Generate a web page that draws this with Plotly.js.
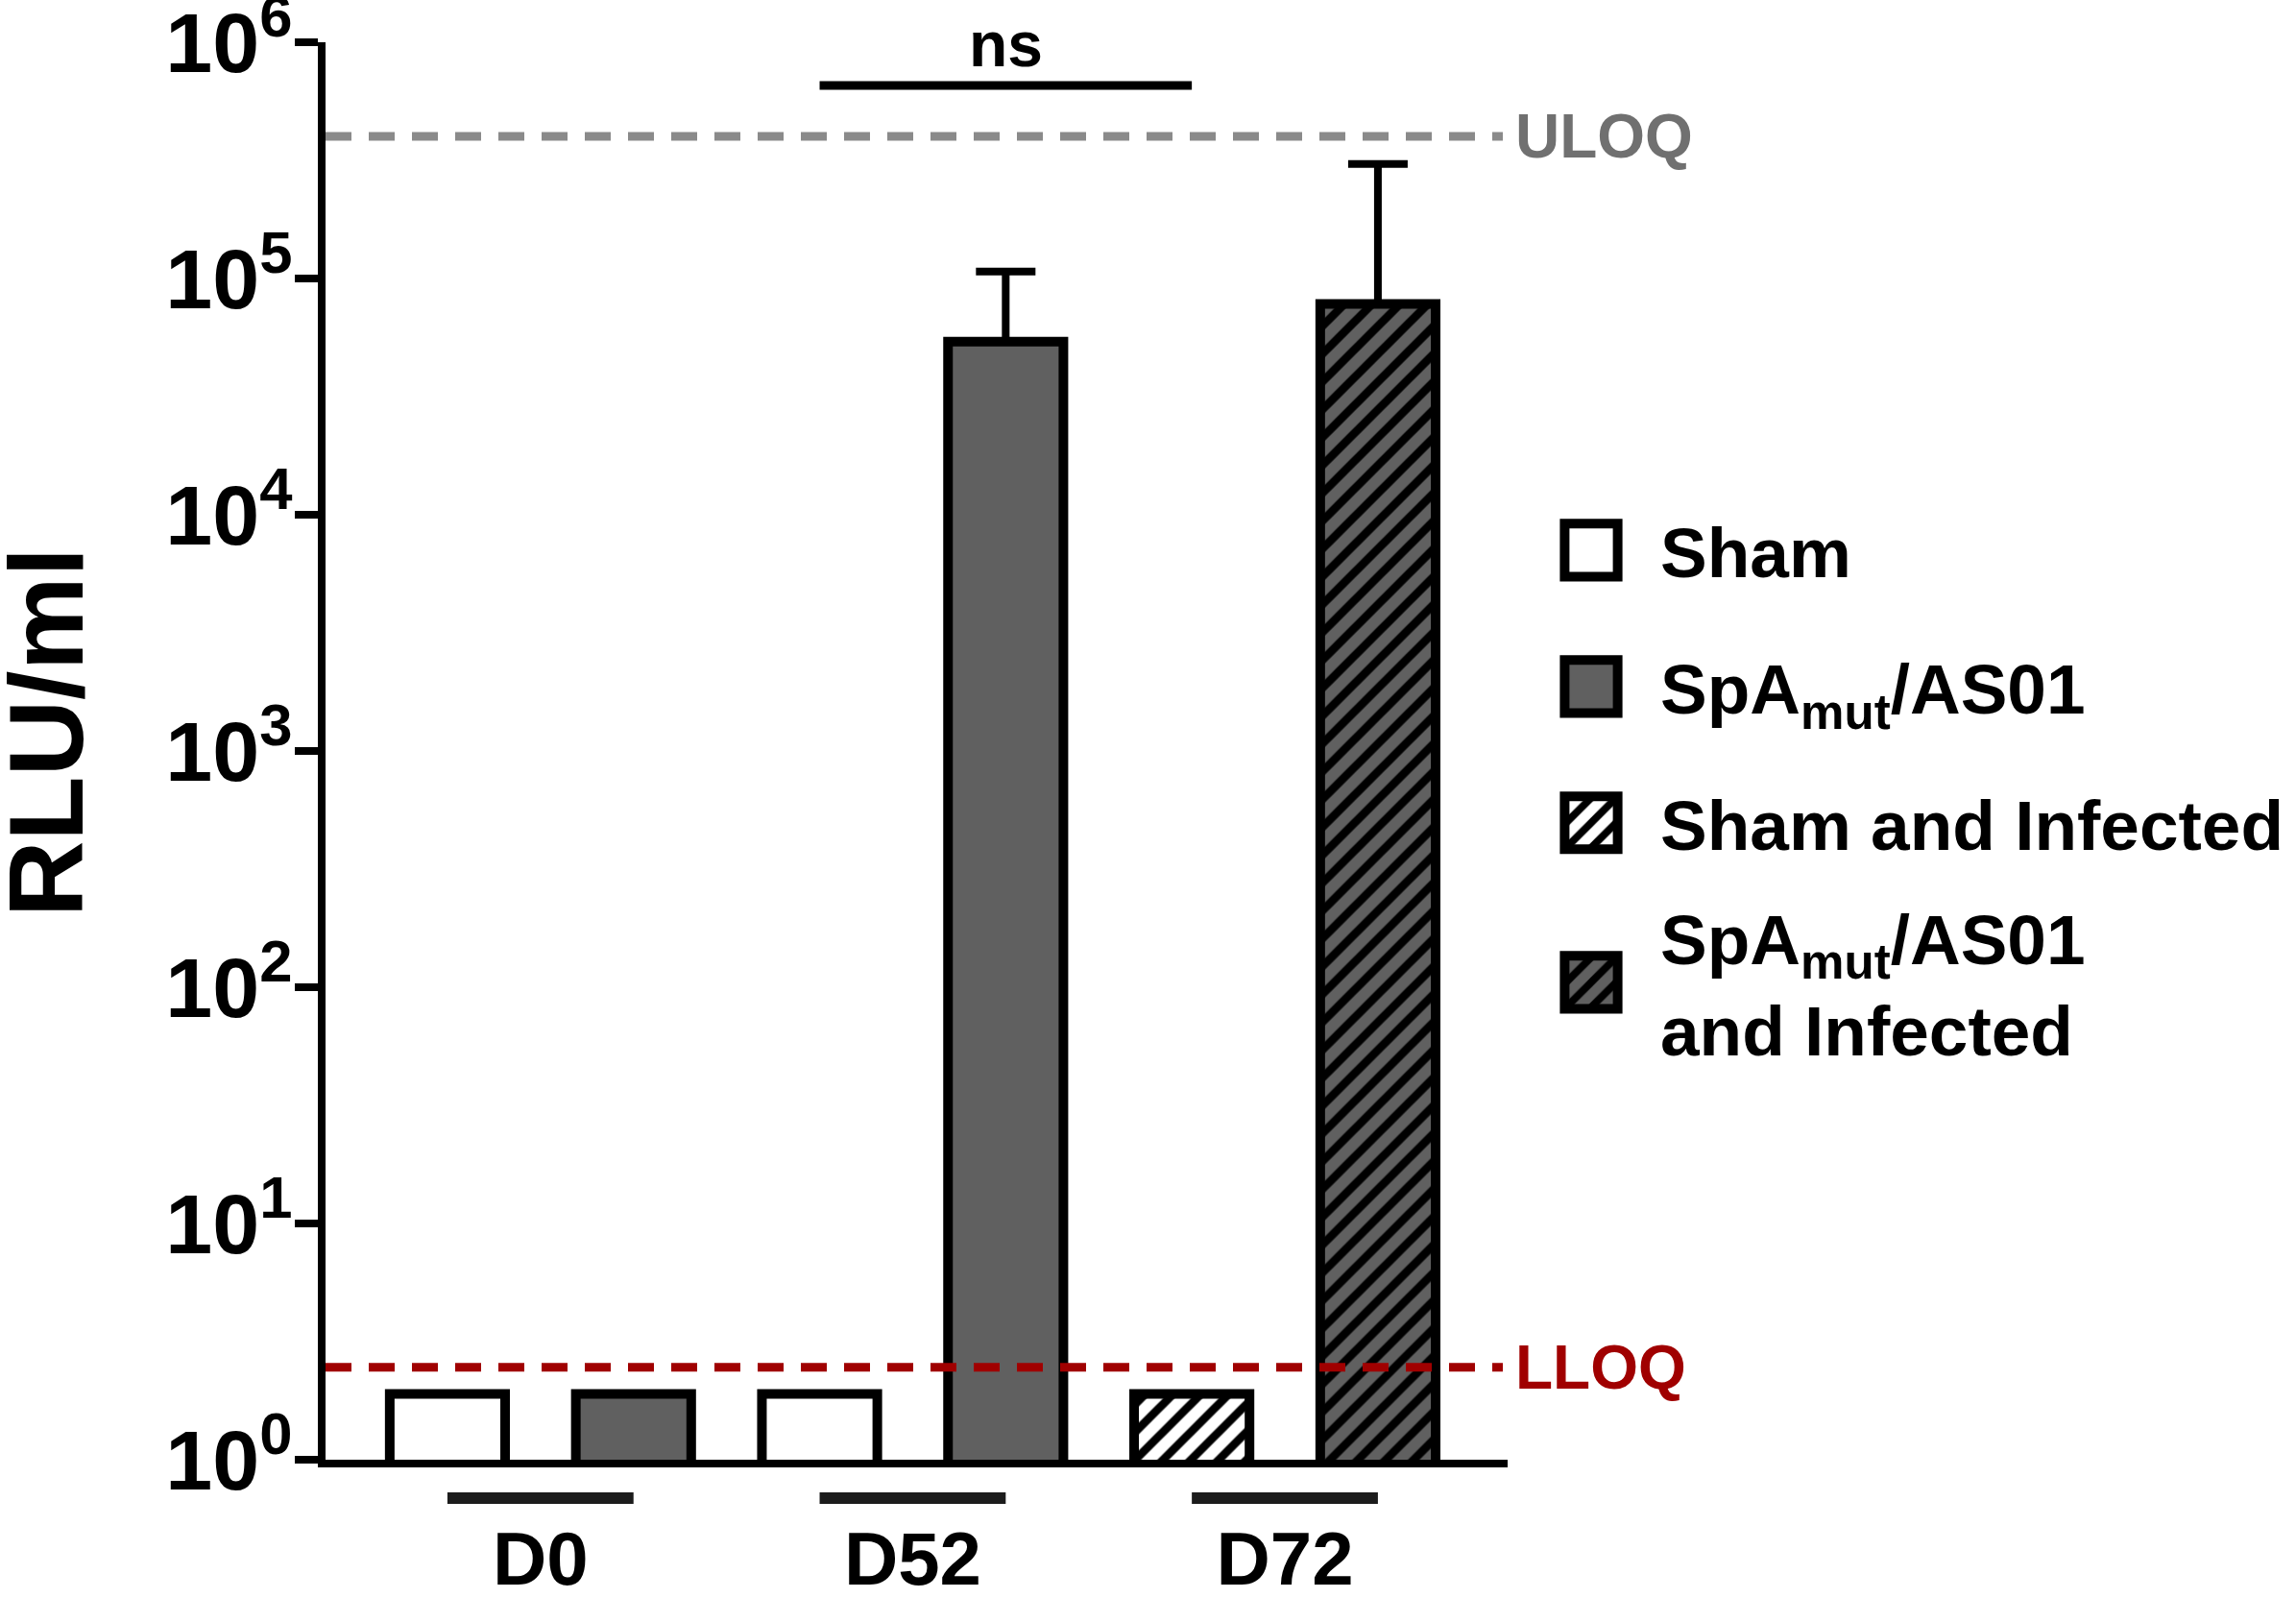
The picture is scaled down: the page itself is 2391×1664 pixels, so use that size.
<!DOCTYPE html>
<html>
<head>
<meta charset="utf-8">
<script src="https://cdn.plot.ly/plotly-3.0.1.min.js"></script>
<style>html,body{margin:0;padding:0;background:#fff;}</style>
</head>
<body>
<div id="chart" style="width:2391px;height:1664px;"></div>
<script>
// ---------------- data ----------------
const timepoints = ['D0', 'D52', 'D72'];
const seriesNames = ['Sham', 'SpA<sub>mut</sub>/AS01', 'Sham and Infected', 'SpA<sub>mut</sub>/AS01<br>and Infected'];

const shamGroups = [0, 1];          // D0, D52
const shamMean = [1.9, 1.9];

const spaGroups = [0, 1];           // D0, D52
const spaMean = [1.9, 5.4e4];
const spaUpper = [null, 1.07e5];

const shamInfGroups = [2];          // D72
const shamInfMean = [1.9];

const spaInfGroups = [2];           // D72
const spaInfMean = [7.8e4];
const spaInfUpper = [3.05e5];

const uloq = 4.0e5;
const lloq = 2.46;
const tickPowers = [0, 1, 2, 3, 4, 5, 6];
const nsLabel = 'ns';

// ---------------- layout helpers ----------------
const W = 2391, H = 1664;
const M = {l: 339, r: 821, t: 44, b: 144};
const plotW = W - M.l - M.r, plotH = H - M.t - M.b;
const xRange = [-0.655, 5.697];
const px2x = p => xRange[0] + (p - M.l) / plotW * (xRange[1] - xRange[0]);
const px2paper = p => (p - M.l) / plotW;
const py2paper = p => (H - M.b - p) / plotH;

const FONT = 'Liberation Sans, Arial, Helvetica, sans-serif';
const GRAY = '#606060';
const slot = (g, vacc) => 2 * g + (vacc ? 1 : 0);
const errPlus = (upper, mean) => upper.map((u, i) => (u == null ? NaN : u - mean[i]));

const barCommon = {
  type: 'bar', width: 0.62, hoverinfo: 'skip',
};
const lineStyle = {color: '#000', width: 10};
const errStyle = (arr) => ({
  type: 'data', symmetric: false, array: arr, arrayminus: arr.map(() => 0),
  color: '#000', thickness: 8, width: 31, visible: true
});
const hatch = (bg) => ({shape: '/', fgcolor: '#000', fgopacity: 1, bgcolor: bg, size: 20.5, solidity: 0.42, fillmode: 'replace'});
const legendFont = {family: FONT, size: 73, weight: 'bold', color: '#000'};

const traces = [
  Object.assign({}, barCommon, {
    name: seriesNames[0], legendgroup: 'a', legend: 'legend',
    x: shamGroups.map(g => slot(g, false)), y: shamMean,
    marker: {color: '#ffffff', line: lineStyle}
  }),
  Object.assign({}, barCommon, {
    name: seriesNames[1], legendgroup: 'b', legend: 'legend',
    x: spaGroups.map(g => slot(g, true)), y: spaMean,
    marker: {color: GRAY, line: lineStyle},
    error_y: errStyle(errPlus(spaUpper, spaMean))
  }),
  Object.assign({}, barCommon, {
    name: seriesNames[2], legendgroup: 'c', legend: 'legend',
    x: shamInfGroups.map(g => slot(g, false)), y: shamInfMean,
    marker: {color: '#ffffff', line: lineStyle, pattern: hatch('#ffffff')}
  }),
  Object.assign({}, barCommon, {
    name: seriesNames[3], legendgroup: 'd', legend: 'legend2',
    x: spaInfGroups.map(g => slot(g, true)), y: spaInfMean,
    marker: {color: GRAY, line: lineStyle, pattern: hatch(GRAY)},
    error_y: errStyle(errPlus(spaInfUpper, spaInfMean))
  }),
  {
    type: 'scatter', mode: 'lines', showlegend: false, hoverinfo: 'skip',
    x: [xRange[0], px2x(1565)], y: [uloq, uloq],
    line: {color: '#8a8a8a', width: 9, dash: '27px,18px'}
  },
  {
    type: 'scatter', mode: 'lines', showlegend: false, hoverinfo: 'skip',
    x: [xRange[0], px2x(1565)], y: [lloq, lloq],
    line: {color: '#a00000', width: 9, dash: '27px,18px'}
  }
];

const shapes = timepoints.map((t, g) => ({
  type: 'line', xref: 'x', yref: 'paper',
  x0: slot(g, false), x1: slot(g, true), y0: py2paper(1560), y1: py2paper(1560),
  line: {color: '#1c1c1c', width: 12}
}));
shapes.push({
  type: 'line', xref: 'x', yref: 'paper',
  x0: slot(1, false), x1: slot(2, false), y0: py2paper(89), y1: py2paper(89),
  line: {color: '#000', width: 9}
});

const annotations = [
  {text: 'RLU/ml', xref: 'paper', yref: 'paper', x: px2paper(47), y: py2paper(763),
   xanchor: 'center', yanchor: 'middle', textangle: -90, showarrow: false,
   font: {family: FONT, size: 110, weight: 'bold', color: '#000'}},
  {text: nsLabel, xref: 'x', yref: 'paper', x: (slot(1, false) + slot(2, false)) / 2, y: py2paper(46),
   xanchor: 'center', yanchor: 'middle', showarrow: false,
   font: {family: FONT, size: 66, weight: 'bold', color: '#000'}},
  {text: 'ULOQ', xref: 'paper', yref: 'y', x: px2paper(1576), y: Math.log10(uloq),
   xanchor: 'left', yanchor: 'middle', showarrow: false,
   font: {family: FONT, size: 64, weight: 'bold', color: '#707070'}},
  {text: 'LLOQ', xref: 'paper', yref: 'y', x: px2paper(1576), y: Math.log10(lloq),
   xanchor: 'left', yanchor: 'middle', showarrow: false,
   font: {family: FONT, size: 64, weight: 'bold', color: '#a00000'}}
];

const layout = {
  width: W, height: H,
  margin: Object.assign({pad: 0, autoexpand: false}, M),
  paper_bgcolor: '#fff', plot_bgcolor: '#fff',
  barmode: 'overlay',
  showlegend: true,
  legend: {
    x: px2paper(1585), xanchor: 'left', y: py2paper(519), yanchor: 'top',
    bgcolor: 'rgba(0,0,0,0)', borderwidth: 0,
    itemwidth: 134, tracegroupgap: 44, traceorder: 'grouped',
    font: legendFont
  },
  legend2: {
    x: px2paper(1585), xanchor: 'left', y: py2paper(1023), yanchor: 'middle',
    bgcolor: 'rgba(0,0,0,0)', borderwidth: 0,
    itemwidth: 134, font: legendFont
  },
  xaxis: {
    range: xRange, showgrid: false, zeroline: false,
    showline: true, linewidth: 8, linecolor: '#000',
    ticks: '', tickvals: timepoints.map((t, g) => (slot(g, false) + slot(g, true)) / 2),
    ticktext: timepoints, ticklabelstandoff: 28, ticklabeloverflow: 'allow',
    tickfont: {family: FONT, size: 78, weight: 'bold', color: '#000'}
  },
  yaxis: {
    type: 'log', range: [tickPowers[0], tickPowers[tickPowers.length - 1]],
    showgrid: false, zeroline: false,
    showline: true, linewidth: 8, linecolor: '#000',
    ticks: 'outside', ticklen: 24, tickwidth: 8, tickcolor: '#000',
    tickvals: tickPowers.map(p => Math.pow(10, p)),
    ticktext: tickPowers.map(p => '10<sup>' + p + '</sup>'),
    ticklabeloverflow: 'allow', ticklabelstandoff: -15,
    tickfont: {family: FONT, size: 88, weight: 'bold', color: '#000'}
  },
  shapes: shapes,
  annotations: annotations
};

Plotly.newPlot('chart', traces, layout, {displayModeBar: false, staticPlot: true}).then(gd => {
  // enlarge legend swatches to match the reference
  const S = 4.6;
  gd.querySelectorAll('.infolayer .legendpoints path').forEach((p, i) => {
    const t = p.getAttribute('transform') || '';
    p.setAttribute('transform', t + ' scale(' + S + ')');
    p.style.strokeWidth = (10 / S) + 'px';
    const fill = p.style.fill || p.getAttribute('fill') || '';
    const m = /url\(["']?#([^"')]+)["']?\)/.exec(fill);
    if (m) {
      const pat = document.getElementById(m[1]);
      if (pat) {
        const clone = pat.cloneNode(true);
        clone.id = m[1] + '-lg' + i;
        const w = parseFloat(pat.getAttribute('width')) || 29;
        clone.setAttribute('patternTransform', 'scale(' + (26 / (w * S)) + ')');
        pat.parentNode.appendChild(clone);
        p.style.fill = 'url(#' + clone.id + ')';
      }
    }
  });
});
</script>
</body>
</html>
